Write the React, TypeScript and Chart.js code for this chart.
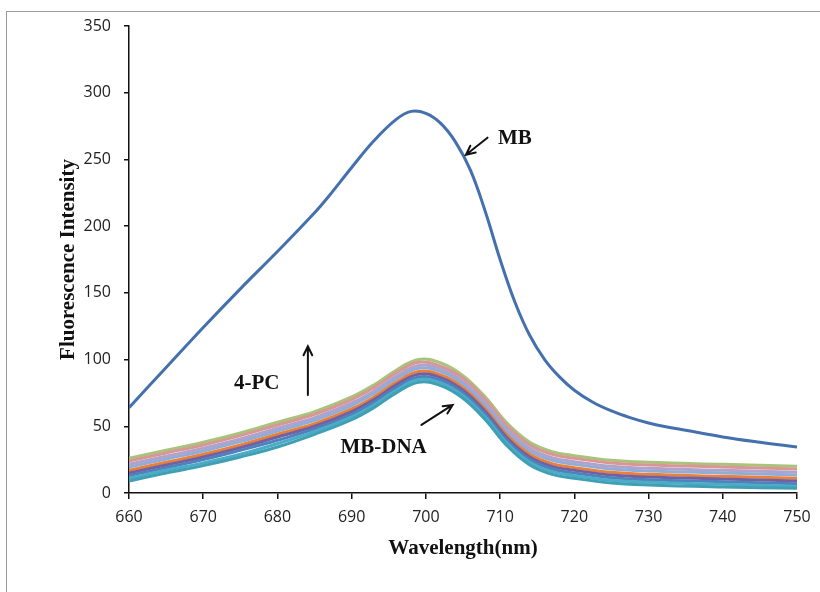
import React, { useEffect, useRef } from 'react';
import { Chart, registerables } from 'chart.js';

Chart.register(...registerables);

// ---- Data ----
const mbWavelengths = [660, 665, 670, 675, 680, 685, 687, 690, 693, 696, 698, 700, 702, 704, 706, 708, 710, 712, 714, 716, 718, 720, 722.5, 725, 727.5, 730, 732.5, 735, 740, 745, 750];
const mbIntensity = [64, 94, 124, 153, 181, 210, 223, 244, 264, 280, 286, 284.5, 277, 263, 242, 211, 175, 143, 118, 100, 87, 77, 68, 61.5, 56.5, 52.5, 49.5, 47, 42, 38, 34.5];

const dnaWavelengths = [660, 665, 670, 675, 680, 685, 690, 693, 696, 699, 702, 705, 708, 711, 714, 717, 720, 725, 730, 740, 750];
const dnaGreen = [26, 32, 38, 45, 53, 61, 72, 81, 92, 100, 97.5, 88, 72, 52, 38, 31, 28, 24.5, 23, 21.5, 20];
const dnaPink = [24, 30, 36, 43, 51, 59, 70, 79, 90, 98, 95, 86, 70, 50, 36, 29, 26, 22.5, 21, 19.5, 18];
const dnaLavender = [21.5, 27.5, 33.5, 40.5, 48.5, 56.5, 67.5, 76.5, 87.5, 95.5, 93, 83.5, 67.5, 47.5, 33.5, 26.5, 23.5, 20, 18.5, 17, 15.5];
const dnaLightBlue = [19.5, 25.5, 31.5, 38.5, 46.5, 54.5, 65.5, 74.5, 85.5, 93.5, 91, 81.5, 65.5, 45.5, 31.5, 24.5, 21.5, 18, 16.5, 15, 13.5];
const dnaOrange = [17, 23, 29, 36, 44, 52, 63, 72, 83, 91, 88.5, 79, 63, 43, 29, 22, 19, 15.5, 14, 12.5, 11];
const dnaPurple = [15, 21, 27, 34, 42, 50, 61, 70, 81, 89, 86.5, 77, 61, 41, 27, 20, 17, 13.5, 12, 10.5, 9];
const dnaBlue = [13, 19, 25, 32, 39.5, 48, 59, 68, 79, 87, 84.5, 75, 59, 39, 25, 18, 15, 11.5, 10, 8.5, 7];
const dnaTeal = [11, 17, 22.5, 29, 37, 46, 57, 66, 77, 85, 82.5, 73, 57, 37, 23, 16, 13, 9.5, 8, 6.5, 5];
const dnaDarkTeal = [9, 15, 20.5, 27, 34.5, 44, 55, 64, 75, 83, 80.5, 71, 55, 35, 21, 14, 11, 7.5, 6, 4.5, 3.5];

const xTicks = [660, 670, 680, 690, 700, 710, 720, 730, 740, 750];
const yTicks = [0, 50, 100, 150, 200, 250, 300, 350];

const labelTexts = ['MB', '4-PC', 'MB-DNA'];
const labelX = [712, 677.2, 694.3];
const labelY = [266, 82, 34];

const arrowFromX = [708.3, 684.1, 699.4];
const arrowFromY = [266.3, 73.5, 51];
const arrowToX = [705.4, 684.1, 703.6];
const arrowToY = [253.5, 110, 66];

const toPoints = (xs: number[], ys: number[]) => xs.map((x, i) => ({ x, y: ys[i] }));

const dnaSeries = [
  { values: dnaDarkTeal, color: '#3E9FB5' },
  { values: dnaTeal, color: '#4BACC6' },
  { values: dnaBlue, color: '#4F81BD' },
  { values: dnaPurple, color: '#7460A0' },
  { values: dnaOrange, color: '#E8813A' },
  { values: dnaLightBlue, color: '#8FADD8' },
  { values: dnaLavender, color: '#B3A2C7' },
  { values: dnaPink, color: '#D99694' },
  { values: dnaGreen, color: '#A7C47A' },
];

const annotationPlugin = {
  id: 'annotations',
  afterDatasetsDraw(chart: any) {
    const { ctx, scales } = chart;
    const xs = scales.x;
    const ys = scales.y;
    ctx.save();
    ctx.fillStyle = '#111';
    ctx.strokeStyle = '#111';
    ctx.font = 'bold 21px "Liberation Serif", "Times New Roman", serif';
    ctx.textAlign = 'center';
    ctx.textBaseline = 'middle';
    labelTexts.forEach((t, i) => {
      ctx.fillText(t, xs.getPixelForValue(labelX[i]), ys.getPixelForValue(labelY[i]));
    });
    ctx.lineWidth = 2;
    ctx.lineCap = 'round';
    for (let i = 0; i < arrowFromX.length; i++) {
      const x1 = xs.getPixelForValue(arrowFromX[i]);
      const y1 = ys.getPixelForValue(arrowFromY[i]);
      const x2 = xs.getPixelForValue(arrowToX[i]);
      const y2 = ys.getPixelForValue(arrowToY[i]);
      const ang = Math.atan2(y2 - y1, x2 - x1);
      const head = 10;
      ctx.beginPath();
      ctx.moveTo(x1, y1);
      ctx.lineTo(x2, y2);
      ctx.moveTo(x2 - head * Math.cos(ang - 0.45), y2 - head * Math.sin(ang - 0.45));
      ctx.lineTo(x2, y2);
      ctx.lineTo(x2 - head * Math.cos(ang + 0.45), y2 - head * Math.sin(ang + 0.45));
      ctx.stroke();
    }
    ctx.restore();
  },
};

export default function App() {
  const canvasRef = useRef<HTMLCanvasElement | null>(null);

  useEffect(() => {
    if (!canvasRef.current) return;
    const datasets: any[] = dnaSeries.map((s) => ({
      data: toPoints(dnaWavelengths, s.values),
      borderColor: s.color,
      backgroundColor: s.color,
      borderWidth: 3,
      pointRadius: 0,
      tension: 0.4,
      fill: false,
    }));
    datasets.push({
      data: toPoints(mbWavelengths, mbIntensity),
      borderColor: '#4570AE',
      backgroundColor: '#4570AE',
      borderWidth: 3,
      pointRadius: 0,
      tension: 0.4,
      fill: false,
    });

    const tickFont = { family: '"Open Sans", "Noto Sans", sans-serif', size: 16 };
    const titleFont = { family: '"Liberation Serif", "Times New Roman", serif', size: 21, weight: 'bold' as const };

    const chart = new Chart(canvasRef.current, {
      type: 'line',
      data: { datasets },
      options: {
        animation: false,
        responsive: false,
        devicePixelRatio: 1,
        layout: { padding: { top: 26, right: 23, left: 0, bottom: 0 } },
        plugins: { legend: { display: false }, tooltip: { enabled: false } },
        scales: {
          x: {
            type: 'linear',
            min: 660,
            max: 750,
            afterBuildTicks: (scale: any) => {
              scale.ticks = xTicks.map((v) => ({ value: v }));
            },
            afterFit: (scale: any) => {
              scale.height = 99;
            },
            border: { display: true, color: '#111', width: 1.5 },
            grid: { display: true, drawOnChartArea: false, drawTicks: true, tickLength: 6, color: '#111', lineWidth: 1.5 },
            ticks: { color: '#222', font: tickFont, padding: 9, maxRotation: 0 },
            title: { display: true, text: 'Wavelength(nm)', color: '#111', font: titleFont, padding: { top: 0, bottom: 31 } },
          },
          y: {
            type: 'linear',
            min: 0,
            max: 350,
            afterBuildTicks: (scale: any) => {
              scale.ticks = yTicks.map((v) => ({ value: v }));
            },
            afterFit: (scale: any) => {
              scale.width = 129;
            },
            border: { display: true, color: '#111', width: 1.5 },
            grid: { display: true, drawOnChartArea: false, drawTicks: true, tickLength: 5, color: '#111', lineWidth: 1.5 },
            ticks: { color: '#222', font: tickFont, padding: 13 },
            title: { display: true, text: 'Fluorescence Intensity', color: '#111', font: titleFont, padding: { top: 56, bottom: 0 } },
          },
        },
      },
      plugins: [annotationPlugin],
    });
    return () => chart.destroy();
  }, []);

  return (
    <div style={{ position: 'fixed', left: 0, top: 0, width: 820, height: 592, background: '#fff' }}>
      <div
        style={{
          position: 'absolute',
          left: 6,
          top: 11,
          width: 814,
          height: 581,
          borderTop: '1.5px solid #9a9a9a',
          borderLeft: '1.5px solid #9a9a9a',
          boxSizing: 'border-box',
        }}
      />
      <canvas ref={canvasRef} width={820} height={592} style={{ position: 'absolute', left: 0, top: 0, width: 820, height: 592 }} />
    </div>
  );
}
